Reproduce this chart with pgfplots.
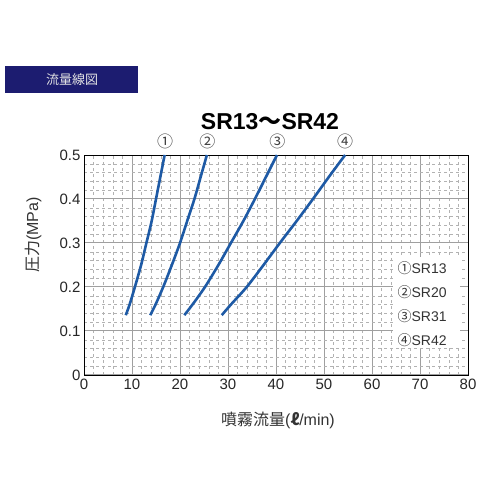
\documentclass[border=0pt]{standalone}
\usepackage{pgfplots}
\pgfplotsset{compat=1.18}
\usepackage{fontspec}
\setmainfont{Liberation Sans}
\newfontfamily\cjk{Noto Sans CJK JP}
\definecolor{curveblue}{RGB}{30,90,165}
\definecolor{navyhead}{RGB}{28,28,112}
\begin{document}
\begin{tikzpicture}[x=1pt,y=1pt]
\path[fill=white] (0,0) rectangle (500,500);
\fill[navyhead] (5,407) rectangle (138,434);
\node[text=white!80!gray, font=\cjk\fontsize{13}{15}\selectfont] at (72,420) {流量線図};
\node[font=\bfseries\fontsize{23}{26}\selectfont] at (270,378) {SR13{\cjk ～}SR42};
\node[rotate=90, text=black!80, font=\fontsize{16}{18}\selectfont] at (33,265) {{\cjk 圧力}(MPa)};
\node[text=black!80, font=\fontsize{16}{18}\selectfont] at (278,80) {{\cjk 噴霧流量}({\cjk\bfseries ℓ}/min)};
\begin{axis}[
  at={(84pt,125pt)}, anchor=south west,
  scale only axis, width=384pt, height=220pt,
  xmin=0, xmax=80, ymin=0, ymax=0.5,
  xtick={0,10,20,30,40,50,60,70,80},
  ytick={0,0.1,0.2,0.3,0.4,0.5},
  yticklabels={0,0.1,0.2,0.3,0.4,0.5},
  minor x tick num=4, minor y tick num=4,
  grid=both,
  major grid style={gray!75, line width=1pt},
  minor grid style={gray!60, dashed, line width=0.45pt},
  tick style={draw=none},
  axis line style={black, line width=0.9pt},
  ticklabel style={font=\fontsize{15}{17}\selectfont, text=black!85},
  /pgf/number format/assume math mode=true,
  clip=false,
]
\addplot[curveblue, line width=2.6pt, smooth] coordinates {(8.7,0.136) (9.5,0.16) (10.6,0.2) (11.9,0.25) (13.0,0.3) (14.1,0.35) (15.0,0.4) (15.9,0.45) (16.8,0.5)};
\addplot[curveblue, line width=2.6pt, smooth] coordinates {(13.8,0.136) (14.9,0.16) (16.5,0.2) (18.3,0.25) (20.0,0.3) (21.5,0.35) (23.0,0.4) (24.3,0.45) (25.6,0.5)};
\addplot[curveblue, line width=2.6pt, smooth] coordinates {(20.9,0.136) (22.6,0.16) (25.2,0.2) (28.0,0.25) (30.6,0.3) (33.2,0.35) (35.6,0.4) (37.9,0.45) (40.2,0.5)};
\addplot[curveblue, line width=2.6pt, smooth] coordinates {(28.7,0.136) (30.6,0.16) (33.9,0.2) (37.4,0.25) (40.8,0.3) (44.3,0.35) (47.7,0.4) (51.0,0.45) (54.4,0.5)};
\node[font=\cjk\fontsize{16}{18}\selectfont, text=black!75] at (axis cs:16.9,0.53) {①};
\node[font=\cjk\fontsize{16}{18}\selectfont, text=black!75] at (axis cs:25.7,0.53) {②};
\node[font=\cjk\fontsize{16}{18}\selectfont, text=black!75] at (axis cs:40.3,0.53) {③};
\node[font=\cjk\fontsize{16}{18}\selectfont, text=black!75] at (axis cs:54.4,0.53) {④};
\fill[white] (axis cs:64.4,0.062) rectangle (axis cs:78.3,0.268);
\node[anchor=west, inner sep=0pt, text=black!80, font=\fontsize{14}{16}\selectfont] at (axis cs:65.3,0.243) {{\cjk ①}SR13};
\node[anchor=west, inner sep=0pt, text=black!80, font=\fontsize{14}{16}\selectfont] at (axis cs:65.3,0.189) {{\cjk ②}SR20};
\node[anchor=west, inner sep=0pt, text=black!80, font=\fontsize{14}{16}\selectfont] at (axis cs:65.3,0.134) {{\cjk ③}SR31};
\node[anchor=west, inner sep=0pt, text=black!80, font=\fontsize{14}{16}\selectfont] at (axis cs:65.3,0.080) {{\cjk ④}SR42};
\end{axis}
\end{tikzpicture}
\end{document}
